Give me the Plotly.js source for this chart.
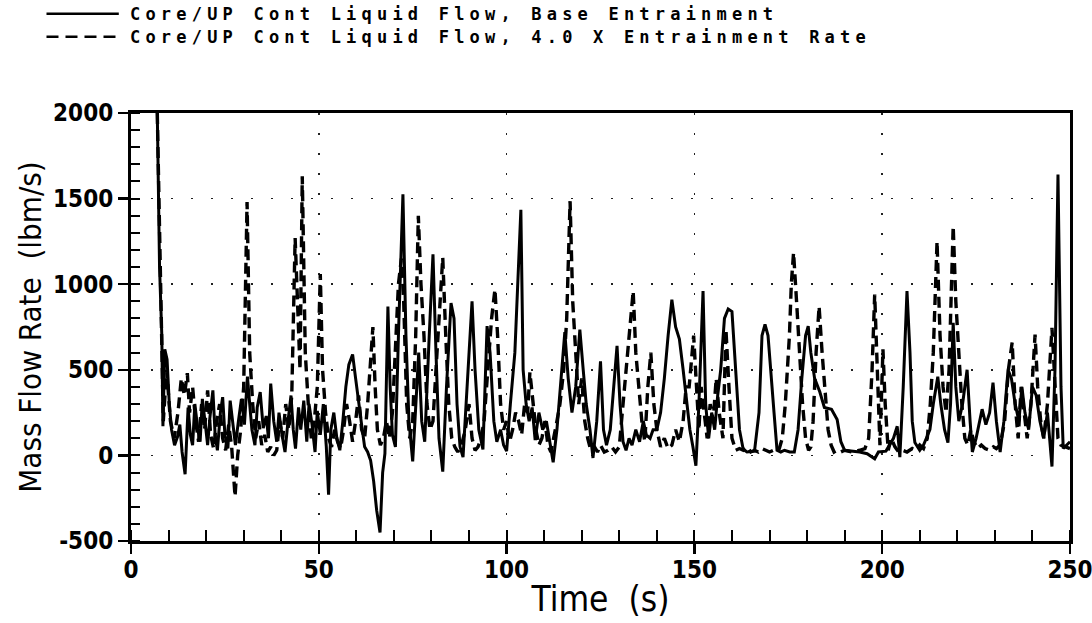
<!DOCTYPE html>
<html>
<head>
<meta charset="utf-8">
<script src="https://cdn.plot.ly/plotly-3.0.1.min.js"></script>
<style>
  html, body { margin: 0; padding: 0; background: #fff; }
  #chart { width: 1092px; height: 623px; }
  .annotation-text { letter-spacing: 5.2px; }
  .xtick text, .ytick text, .xtitle, .ytitle { font-stretch: condensed; }
</style>
</head>
<body>
<div id="chart"></div>
<script>
// ---- Data ----
const seriesNames = [
  "Core/UP Cont Liquid Flow, Base Entrainment",
  "Core/UP Cont Liquid Flow, 4.0 X Entrainment Rate"
];
const xTickVals = [0, 50, 100, 150, 200, 250];
const yTickVals = [-500, 0, 500, 1000, 1500, 2000];

const timeBase = [7.0,7.6,8.2,8.5,9.0,9.6,10.2,10.8,11.6,12.4,13.0,13.6,14.4,15.2,15.8,16.4,17.0,17.8,18.4,19.0,19.8,20.4,21.0,21.8,22.4,23.0,23.8,24.4,25.0,25.8,26.4,27.2,27.8,28.6,29.4,30.2,31.0,31.6,32.2,33.0,33.6,34.4,35.2,36.0,36.6,37.2,38.0,38.8,39.4,40.2,41.0,41.8,42.6,43.2,43.8,44.6,45.2,46.0,46.8,47.4,48.2,49.0,49.6,50.4,51.2,52.0,52.6,53.2,54.0,54.8,55.6,56.4,57.2,58.0,59.0,59.8,60.6,61.4,62.2,63.0,63.8,64.6,65.4,66.3,67.0,67.6,68.4,69.0,69.6,70.4,71.2,72.4,73.2,74.0,75.0,75.8,76.6,77.4,78.2,79.4,80.4,81.2,82.0,83.0,84.0,85.2,86.0,86.8,87.6,88.4,89.4,90.8,91.6,92.6,93.7,94.8,95.6,96.6,97.4,98.4,99.2,100.0,101.0,102.2,103.8,104.4,105.2,106.0,106.8,107.6,108.6,109.6,110.6,111.6,112.4,113.4,114.4,115.5,116.4,117.4,118.4,119.5,120.4,121.2,122.2,123.0,124.0,125.0,125.8,126.6,127.6,128.6,129.4,130.2,131.0,131.8,132.6,133.4,134.4,135.4,136.4,137.2,138.2,139.0,140.0,141.0,142.0,143.0,144.0,145.0,146.0,147.0,148.0,148.8,149.6,150.4,151.2,152.3,153.0,153.8,154.6,155.4,156.2,157.0,158.0,159.0,160.0,161.0,162.0,163.0,164.0,166.0,167.2,168.0,168.8,169.6,170.4,171.2,172.0,173.0,174.0,175.4,176.6,177.6,178.6,179.6,180.3,181.0,182.0,183.4,184.6,186.5,188.0,189.0,190.0,192.0,194.0,196.0,198.0,199.0,201.0,203.0,204.0,204.7,205.6,206.6,207.4,208.0,208.7,210.0,211.0,212.7,213.6,214.8,215.6,216.6,217.5,218.2,218.9,219.6,220.4,221.4,222.6,223.4,224.0,225.0,226.6,227.6,228.6,229.5,230.4,231.4,232.4,233.5,234.4,235.4,236.4,237.2,238.0,239.0,240.0,241.0,242.0,243.0,244.0,245.2,246.0,246.8,247.6,248.2,249.0,250.0];
const flowBase = [2000,1100,700,170,620,560,300,150,60,110,180,20,-110,280,120,60,300,150,80,330,180,60,220,380,120,30,250,340,120,40,320,160,60,200,330,180,460,300,150,60,280,370,160,230,100,420,200,80,250,120,20,200,350,150,40,280,150,320,80,300,180,20,260,120,300,50,-230,150,250,100,30,200,400,530,590,450,300,180,50,20,-30,-150,-320,-450,-100,10,870,400,120,50,700,1525,700,200,-35,300,600,200,80,700,1175,600,100,-95,400,890,800,300,50,-10,400,900,500,150,35,755,600,200,80,150,60,25,300,600,1435,500,300,200,280,90,250,150,200,60,-40,150,450,720,450,250,400,735,500,300,150,-15,200,550,150,60,150,400,640,300,80,30,100,60,150,80,200,120,100,150,150,250,450,700,910,750,680,500,300,150,50,-60,300,960,300,100,250,150,350,500,800,855,840,500,150,35,20,25,250,700,765,700,500,250,30,20,30,20,20,150,450,700,755,600,450,370,280,270,210,80,30,25,20,10,-20,20,25,100,170,-10,400,960,600,200,75,30,60,150,300,460,300,150,75,300,775,400,200,300,500,200,20,100,270,180,250,425,200,20,200,500,450,300,200,400,250,150,400,350,200,100,250,-65,500,1640,400,40,60,80];

const timeX4 = [7.0,8.2,8.6,9.5,10.5,11.5,12.5,13.4,14.2,15.0,15.6,16.4,17.2,18.0,18.8,19.6,20.4,21.2,22.0,22.8,23.6,24.4,25.2,26.0,26.8,27.7,28.4,29.2,30.0,30.9,31.6,32.4,33.2,34.0,34.8,35.6,36.4,37.2,38.0,38.8,39.6,40.4,41.2,42.0,42.8,43.7,44.4,45.0,45.6,46.4,47.2,48.0,48.8,49.6,50.4,51.0,51.8,52.6,53.4,54.2,55.0,55.8,56.6,57.4,58.2,59.0,59.8,60.6,61.4,62.2,63.0,63.8,64.4,65.0,65.6,66.4,67.2,68.0,68.8,69.6,70.4,71.2,72.0,72.6,73.4,74.2,75.0,75.8,76.5,77.2,78.0,78.8,79.6,80.4,81.2,82.2,83.0,83.8,84.6,85.4,86.2,87.0,88.0,89.0,90.0,90.8,91.6,92.4,93.2,94.0,95.0,96.0,96.9,97.6,98.4,99.2,100.0,100.8,101.6,102.4,103.2,104.0,104.8,105.6,106.2,107.0,107.8,108.6,109.4,110.2,111.0,111.8,112.6,113.4,114.2,115.2,116.0,116.9,117.6,118.4,119.2,120.0,120.8,121.6,122.4,123.4,124.2,125.0,126.0,127.0,128.0,129.0,130.0,131.0,132.0,133.0,133.7,134.4,135.2,136.0,136.8,137.6,138.4,139.2,140.0,141.0,142.0,143.0,144.0,145.0,146.0,147.0,147.8,148.6,149.8,150.6,151.2,151.8,152.6,153.4,154.2,155.0,155.8,156.6,157.6,158.4,159.2,160.0,161.0,162.0,163.0,164.0,165.0,166.0,167.0,168.0,169.0,170.0,171.0,171.8,172.6,173.4,174.2,175.3,175.8,176.4,177.2,178.0,178.8,179.6,180.4,181.0,181.6,182.4,183.2,184.0,184.8,185.6,186.4,187.2,188.0,189.0,190.0,192.0,194.0,195.4,196.4,197.3,198.0,198.6,199.4,200.2,200.8,201.6,202.4,203.4,204.4,205.4,206.6,208.0,209.0,210.0,211.0,212.0,212.8,213.6,214.6,215.4,216.2,217.0,217.8,218.9,219.6,220.4,221.2,222.0,222.8,223.6,224.4,225.4,226.4,227.4,228.6,229.6,230.4,231.4,232.6,233.6,234.6,235.4,236.2,237.0,237.8,238.6,239.6,240.7,241.4,242.2,243.0,244.0,245.2,246.0,246.8,247.6,248.6,250.0];
const flowX4 = [2000,700,200,500,200,100,250,450,350,480,250,400,200,80,300,150,380,120,40,200,300,100,30,180,50,-240,0,150,400,1480,600,300,100,200,60,120,20,50,0,30,200,100,300,150,350,1270,900,500,1630,600,300,100,200,400,1060,500,250,100,50,150,80,40,150,300,200,80,200,350,150,100,300,600,750,400,150,60,100,200,100,250,600,1000,1150,900,300,100,200,700,1400,1000,700,300,150,200,500,900,1155,700,300,100,50,20,60,150,300,100,30,50,100,200,500,800,970,700,300,150,200,80,150,250,200,120,300,250,485,300,150,60,100,200,60,20,100,200,300,500,800,1485,900,600,300,450,200,100,30,50,20,60,20,30,50,20,50,300,550,800,960,600,400,200,80,400,600,300,150,50,100,40,60,150,80,200,400,400,700,350,150,400,250,100,300,200,450,250,100,735,400,100,30,40,30,50,20,30,20,40,30,20,30,20,40,100,300,700,1000,1185,900,600,300,100,30,50,200,600,870,600,350,150,60,20,30,20,30,20,30,40,100,500,940,500,60,620,300,30,100,50,20,30,20,40,30,60,40,100,300,600,1250,700,400,250,500,1340,900,600,300,100,60,150,80,40,60,40,30,50,40,60,200,500,660,300,100,400,250,100,300,705,400,200,100,300,745,400,100,60,50,40];

// ---- Chart ----
const traces = [
  {x: timeBase, y: flowBase, name: seriesNames[0], type: 'scatter', mode: 'lines',
   line: {color: '#000', width: 3}, showlegend: false, cliponaxis: true},
  {x: timeX4, y: flowX4, name: seriesNames[1], type: 'scatter', mode: 'lines',
   line: {color: '#000', width: 3.4, dash: '11px,6px'}, showlegend: false, cliponaxis: true}
];

const condFamily = '"DejaVu Sans Condensed", "DejaVu Sans", sans-serif';
const axisFont = {family: condFamily, size: 24, color: '#000', weight: 'bold'};
const xTitleFont = {family: condFamily, size: 35, color: '#000'};
const yTitleFont = {family: condFamily, size: 31, color: '#000'};
const legendFont = {family: '"DejaVu Sans Mono", monospace', size: 17, color: '#000', weight: 'bold'};

const layout = {
  width: 1092, height: 623,
  margin: {l: 131, r: 22, t: 113, b: 82, pad: 0},
  paper_bgcolor: '#fff', plot_bgcolor: '#fff',
  showlegend: false,
  xaxis: {
    range: [0, 250], tickvals: xTickVals, ticktext: xTickVals.map(String),
    ticks: 'outside', ticklen: 10, tickwidth: 2.5, tickcolor: '#000',
    ticklabeloverflow: 'allow', ticklabelstandoff: -5,
    showline: true, linewidth: 3, linecolor: '#000', mirror: true,
    showgrid: true, gridcolor: '#222', gridwidth: 1.6, griddash: '2px,18px',
    zeroline: false, tickfont: axisFont,
    minor: {dtick: 10, tick0: 0, ticks: 'inside', ticklen: 11, tickwidth: 2, tickcolor: '#000', showgrid: false},
    title: {text: 'Time\u00a0 (s)', font: xTitleFont, standoff: 4}
  },
  yaxis: {
    range: [-500, 2000], tickvals: yTickVals, ticktext: yTickVals.map(String),
    ticks: 'outside', ticklen: 10, tickwidth: 2.5, tickcolor: '#000',
    ticklabeloverflow: 'allow',
    showline: true, linewidth: 3, linecolor: '#000', mirror: true,
    showgrid: true, gridcolor: '#222', gridwidth: 1.6, griddash: '2px,18px',
    zeroline: false, tickfont: axisFont,
    minor: {dtick: 100, tick0: 0, ticks: 'inside', ticklen: 9, tickwidth: 2, tickcolor: '#000', showgrid: false},
    title: {text: 'Mass Flow Rate\u00a0 (lbm/s)', font: yTitleFont, standoff: 3}
  },
  shapes: [
    {type: 'line', xref: 'paper', yref: 'paper', x0: -0.090, x1: -0.013, y0: 1.232, y1: 1.232,
     line: {color: '#000', width: 2.5}},
    {type: 'line', xref: 'paper', yref: 'paper', x0: -0.090, x1: -0.013, y0: 1.178, y1: 1.178,
     line: {color: '#000', width: 2.5, dash: '12px,7px'}}
  ],
  annotations: [
    {xref: 'paper', yref: 'paper', x: -0.003, y: 1.232, xanchor: 'left', yanchor: 'middle',
     text: seriesNames[0], showarrow: false, font: legendFont},
    {xref: 'paper', yref: 'paper', x: -0.003, y: 1.178, xanchor: 'left', yanchor: 'middle',
     text: seriesNames[1], showarrow: false, font: legendFont}
  ]
};

Plotly.newPlot('chart', traces, layout, {staticPlot: true, displayModeBar: false});
</script>
</body>
</html>
